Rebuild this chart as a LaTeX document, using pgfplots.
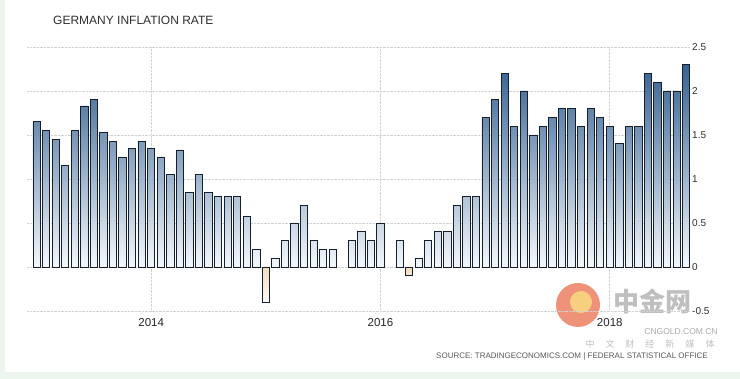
\documentclass[border=0pt]{standalone}
\usepackage{pgfplots}
\pgfplotsset{compat=1.18}
\usepackage{fontspec}
\setmainfont{Liberation Sans}
\newfontfamily\cjk{Noto Sans CJK SC}
\definecolor{bartop}{RGB}{55,98,146}
\definecolor{barbot}{RGB}{243,247,252}
\definecolor{negtop}{RGB}{240,221,190}
\definecolor{negbot}{RGB}{253,250,244}
\definecolor{barline}{RGB}{22,32,45}
\definecolor{gridc}{RGB}{210,210,210}
\definecolor{framec}{RGB}{236,246,238}
\definecolor{wmorange}{RGB}{236,128,98}
\definecolor{wmyellow}{RGB}{250,214,128}

\pgfplotstableread{
x y
0 1.65
1 1.55
2 1.45
3 1.15
4 1.55
5 1.83
6 1.90
7 1.53
8 1.43
9 1.25
10 1.35
11 1.43
12 1.35
13 1.25
14 1.05
15 1.33
16 0.85
17 1.05
18 0.85
19 0.80
20 0.80
21 0.80
22 0.58
23 0.20
25 0.10
26 0.30
27 0.50
28 0.70
29 0.30
30 0.20
31 0.20
33 0.30
34 0.40
35 0.30
36 0.50
38 0.30
40 0.10
41 0.30
42 0.40
43 0.40
44 0.70
45 0.80
46 0.80
47 1.70
48 1.90
49 2.20
50 1.60
51 2.00
52 1.50
53 1.60
54 1.70
55 1.80
56 1.80
57 1.60
58 1.80
59 1.70
60 1.60
61 1.40
62 1.60
63 1.60
64 2.20
65 2.10
66 2.00
67 2.00
68 2.30
}\posdata

\pgfplotstableread{
x y
24 -0.40
39 -0.10
}\negdata

\begin{document}
\begin{tikzpicture}[x=1pt,y=1pt]
\fill[framec] (0,0) rectangle (740,379);
\fill[white] (5,7) rectangle (740,379);
\useasboundingbox (0,0) rectangle (740,379);

% watermark
\fill[wmorange, opacity=0.85] (578,74) circle (22);
\fill[wmyellow, opacity=0.9] (581,77) circle (11);
\node[font=\cjk\fontsize{26}{30}\selectfont\bfseries, text=black!25, inner sep=0] at (652,78) {中金网};
\node[font=\fontsize{8.5}{10}\selectfont, text=black!33, inner sep=0] at (681,47) {CNGOLD.COM.CN};
\node[font=\cjk\fontsize{9}{10}\selectfont, text=black!25, inner sep=0] at (650,35) {中\hspace{11pt}文\hspace{11pt}财\hspace{11pt}经\hspace{11pt}新\hspace{11pt}媒\hspace{11pt}体};

\node[anchor=west, inner sep=0, font=\fontsize{12}{14}\selectfont, text=black!82] at (53,359) {GERMANY INFLATION RATE};
\node[anchor=east, inner sep=0, font=\fontsize{8}{9}\selectfont, text=black!65] at (708,23) {SOURCE: TRADINGECONOMICS.COM | FEDERAL STATISTICAL OFFICE};

\begin{axis}[
  at={(27pt,68pt)}, anchor=south west,
  scale only axis, width=663pt, height=264pt,
  xmin=-1, xmax=68.4, ymin=-0.5, ymax=2.5,
  axis line style={draw=none},
  major tick length=0pt,
  xtick={12,36,60}, xticklabels={2014,2016,2018},
  ytick={-0.5,0,0.5,1,1.5,2,2.5},
  yticklabels={-0.5,0,0.5,1,1.5,2,2.5},
  yticklabel pos=right,
  xmajorgrids, ymajorgrids,
  grid style={densely dotted, gridc, line width=0.6pt},
  yticklabel style={font=\fontsize{10}{11}\selectfont, text=black!82, anchor=west, inner xsep=2pt},
  xticklabel style={font=\fontsize{11.5}{12}\selectfont, text=black!85, yshift=-4pt},
]
\addplot[ybar, bar width=7.3pt, bar shift=0pt, draw=barline, line width=0.8pt, top color=bartop, bottom color=barbot] table[x=x,y=y] {\posdata};
\addplot[ybar, bar width=7.3pt, bar shift=0pt, draw=barline, line width=0.8pt, top color=negtop, bottom color=negbot] table[x=x,y=y] {\negdata};
\end{axis}
\end{tikzpicture}
\end{document}
